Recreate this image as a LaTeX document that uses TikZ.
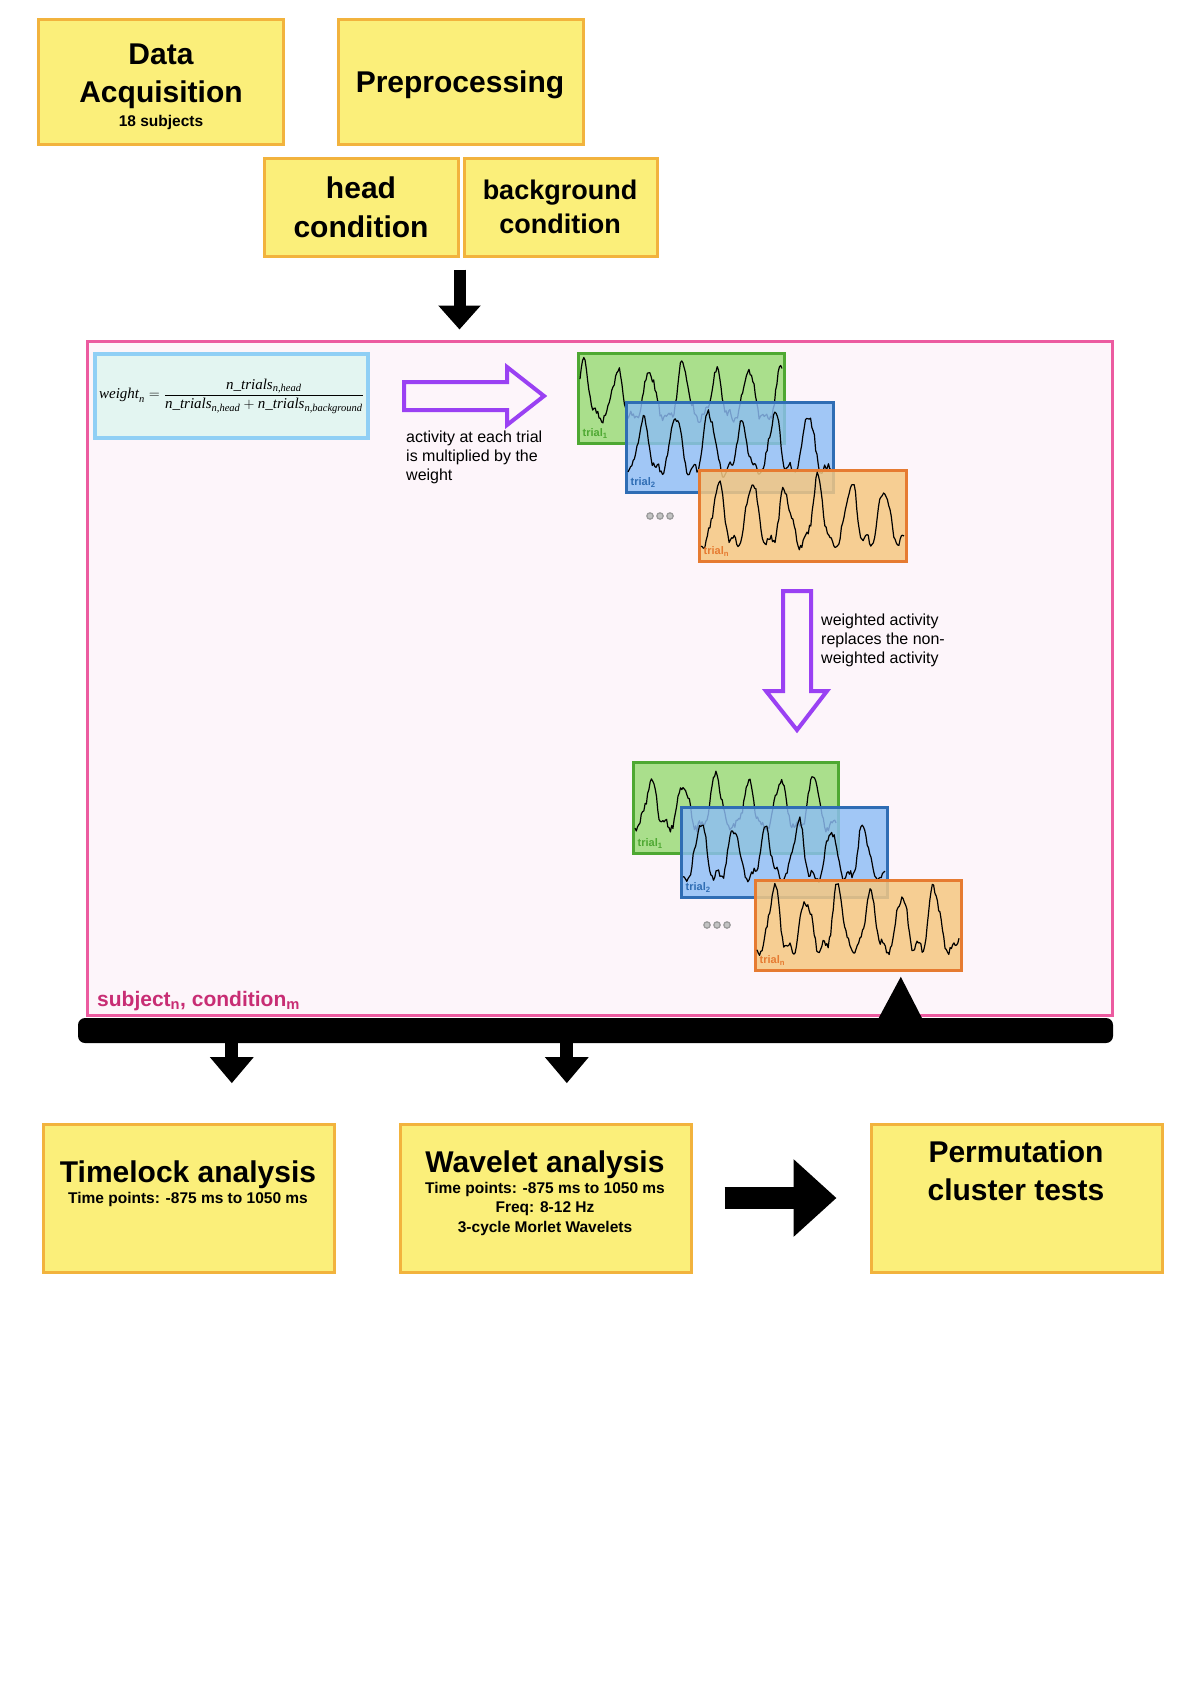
\documentclass[tikz,border=0pt]{standalone}
\usepackage{fontspec}
\usepackage{amsmath}
\setmainfont{Liberation Sans}
\newfontfamily\tms{Liberation Serif}
\usetikzlibrary{arrows.meta,calc}

\definecolor{ybox}{HTML}{FBEF7A}
\definecolor{yedge}{HTML}{F2B33D}
\definecolor{pedge}{HTML}{EC5BA0}
\definecolor{pfill}{HTML}{FDF5FA}
\definecolor{fedge}{HTML}{90CFF5}
\definecolor{ffill}{HTML}{E3F5F1}
\definecolor{purp}{HTML}{9A41F3}
\definecolor{gfill}{HTML}{AADF8C}
\definecolor{gedge}{HTML}{4EA832}
\definecolor{bfill}{HTML}{8DBEF6}
\definecolor{bedge}{HTML}{2F6DB4}
\definecolor{ofill}{HTML}{F5C882}
\definecolor{oedge}{HTML}{E67B31}
\definecolor{subjc}{HTML}{C82D74}
\definecolor{dotc}{HTML}{9A9A9A}

\newcommand\ti[1]{\text{\tms\itshape #1}}

% box node from corners: name, x1, y1, x2, y2, style
\newcommand\boxat[6]{\node[#6, minimum width={#4-#2}, minimum height={#5-#3}] (#1) at ({(#2+#4)/2},{(#3+#5)/2}) {};}

% wave: x0, y0, len, seed, phase, base, amp, period
\newcommand\wave[8]{%
  \pgfmathsetseed{#4}%
  \draw[sig] plot[domain=0:#3, samples=160, variable=\t]
    ({#1+\t},{#2+#6-#7*(0.5+0.5*cos((\t-#5)/#8*360))^2*(1+0.12*sin(\t*7+#4*40)) + 0.09*#7*sin((\t-#5)/#8*980+#4*25) + 3.4*rand});
}

\tikzset{
  ybx/.style={draw=yedge, fill=ybox, line width=3pt, inner sep=0pt},
  big/.style={font=\fontsize{30}{36}\selectfont\bfseries, inner sep=0pt, anchor=base},
  mid/.style={font=\fontsize{27}{32}\selectfont\bfseries, inner sep=0pt, anchor=base},
  sml/.style={font=\fontsize{15.5}{19}\selectfont\bfseries, inner sep=0pt, anchor=base},
  note/.style={font=\fontsize{16}{19}\selectfont, align=left, inner sep=0pt, anchor=north west},
  trialbx/.style={line width=3pt, inner sep=0pt},
  tlab/.style={font=\fontsize{11}{13}\selectfont\bfseries, inner sep=0pt, anchor=base west},
  sig/.style={black, line width=1.2pt, line join=round},
  purparrow/.style={draw=purp, fill=pfill, line width=4pt, line join=miter},
  blk/.style={line width=#1, black},
}

\begin{document}
\begin{tikzpicture}[x=1pt,y=-1pt]
\useasboundingbox (0,0) rectangle (1190,1683);
\fill[white] (0,0) rectangle (1190,1683);

% ---------- top boxes ----------
\boxat{acq}{38}{20}{283}{144}{ybx}
\node[big] (acqA) at (161,65) {Data};
\node[big] (acqB) at (161,103) {Acquisition};
\node[sml] (acqC) at (161,127) {18 subjects};

\boxat{pre}{338}{20}{583}{144}{ybx}
\node[big] (preA) at (460,93) {Preprocessing};

\boxat{headc}{264}{158}{458}{256}{ybx}
\node[big] (headA) at (361,198) {head};
\node[big] (headB) at (361,237) {condition};

\boxat{bgc}{464}{158}{657}{256}{ybx}
\node[mid] (bgA) at (560,199) {background};
\node[mid] (bgB) at (560,233) {condition};

% ---------- pink container ----------
\boxat{pink}{87}{341}{1112}{1015}{draw=pedge, fill=pfill, line width=3pt, inner sep=0pt}

% top arrow
\draw[blk=12pt, -{Triangle[width=41pt,length=24pt]}]
  ([yshift=-12pt]headc.south east) -- ([yshift=10pt]pink.north -| headc.south east);

% formula
\boxat{fbox}{95}{354}{368}{438}{draw=fedge, fill=ffill, line width=4pt, inner sep=0pt}
\node[font=\fontsize{15}{18}\selectfont, inner sep=0pt] (formula) at (fbox.center)
  {$\ti{weight}_{\ti{n}} = \dfrac{\ti{n\_trials}_{\ti{n,head}}}{\ti{n\_trials}_{\ti{n,head}} + \ti{n\_trials}_{\ti{n,background}}}$};

% purple right arrow
\draw[purparrow] (404,382) -- (507,382) -- (507,367) -- (544,396) -- (507,425) -- (507,410) -- (404,410) -- cycle;
\node[note] (noteA) at (406,431) {activity at each trial\\is multiplied by the\\weight};

% ---------- trial group 1 ----------
\boxat{g1}{578}{353}{784}{443}{trialbx, draw=gedge, fill=gfill}
\wave{580}{353}{202}{11}{4}{64}{48}{33}
\node[tlab, text=gedge] (g1l) at ([xshift=6pt,yshift=8pt]g1.south west) {trial\textsubscript{1}};

\boxat{b1}{626}{402}{833}{492}{trialbx, draw=bedge, fill=bfill, fill opacity=0.82}
\wave{628}{402}{203}{23}{15}{68}{54}{33}
\node[tlab, text=bedge] (b1l) at ([xshift=6pt,yshift=8pt]b1.south west) {trial\textsubscript{2}};

\boxat{o1}{699}{470}{906}{561}{trialbx, draw=oedge, fill=ofill, fill opacity=0.85}
\wave{701}{470}{203}{37}{18}{72}{58}{33}
\node[tlab, text=oedge] (o1l) at ([xshift=6pt,yshift=8pt]o1.south west) {trial\textsubscript{n}};

\foreach \dx in {0,10,20}{
  \filldraw[draw=dotc, fill=dotc!60, line width=1.2pt] (650+\dx,516) circle (3.2);
}

% purple down arrow
\draw[purparrow] (783,591) -- (811,591) -- (811,691) -- (827,691) -- (797,730) -- (766,691) -- (783,691) -- cycle;
\node[note] (noteB) at (821,614) {weighted activity\\replaces the non-\\weighted activity};

% ---------- trial group 2 ----------
\boxat{g2}{633}{762}{838}{853}{trialbx, draw=gedge, fill=gfill}
\wave{635}{762}{201}{51}{16}{64}{46}{32.5}
\node[tlab, text=gedge] (g2l) at ([xshift=6pt,yshift=8pt]g2.south west) {trial\textsubscript{1}};

\boxat{b2}{681}{807}{887}{897}{trialbx, draw=bedge, fill=bfill, fill opacity=0.82}
\wave{683}{807}{202}{63}{18}{70}{50}{32.5}
\node[tlab, text=bedge] (b2l) at ([xshift=6pt,yshift=8pt]b2.south west) {trial\textsubscript{2}};

\boxat{o2}{755}{880}{961}{970}{trialbx, draw=oedge, fill=ofill, fill opacity=0.85}
\wave{757}{880}{202}{79}{17}{68}{56}{32}
\node[tlab, text=oedge] (o2l) at ([xshift=6pt,yshift=8pt]o2.south west) {trial\textsubscript{n}};

\foreach \dx in {0,10,20}{
  \filldraw[draw=dotc, fill=dotc!60, line width=1.2pt] (707+\dx,925) circle (3.2);
}

\node[font=\fontsize{21}{25}\selectfont\bfseries, text=subjc, inner sep=0pt, anchor=base west] (subj) at (97,1006)
  {subject\textsubscript{n}, condition\textsubscript{m}};

% ---------- black bar ----------
\boxat{bar}{78}{1018}{1113}{1043}{fill=black, rounded corners=7pt, inner sep=0pt}
\fill[black] ([xshift=801pt]bar.north west) -- ([xshift=823pt,yshift=41pt]bar.north west) -- ([xshift=844pt]bar.north west) -- cycle;

% ---------- bottom boxes ----------
\boxat{tl}{43}{1124}{334}{1272}{ybx}
\node[big] (tlA) at (188,1182) {Timelock analysis};
\node[sml] (tlB) at (188,1203) {Time points: -875 ms to 1050 ms};

\boxat{wv}{400}{1124}{691}{1272}{ybx}
\node[big] (wvA) at (545,1172) {Wavelet analysis};
\node[sml] (wvB) at (545,1193) {Time points: -875 ms to 1050 ms};
\node[sml] (wvC) at (545,1212) {Freq: 8-12 Hz};
\node[sml] (wvD) at (545,1232) {3-cycle Morlet Wavelets};

\boxat{pm}{871}{1124}{1162}{1272}{ybx}
\node[big] (pmA) at (1016,1162) {Permutation};
\node[big] (pmB) at (1016,1200) {cluster tests};

% bar arrows down
\draw[blk=13pt, -{Triangle[width=42pt,length=26pt]}]
  ([xshift=154pt,yshift=1pt]bar.south west) -- ([xshift=154pt,yshift=-40pt]bar.south west);
\draw[blk=13pt, -{Triangle[width=42pt,length=26pt]}]
  ([xshift=489pt,yshift=1pt]bar.south west) -- ([xshift=489pt,yshift=-40pt]bar.south west);

% wavelet -> permutation
\draw[blk=22pt, -{Triangle[width=75pt,length=43pt]}]
  ([xshift=32pt]wv.east) -- ([xshift=-33pt]pm.west);

\end{tikzpicture}
\end{document}
